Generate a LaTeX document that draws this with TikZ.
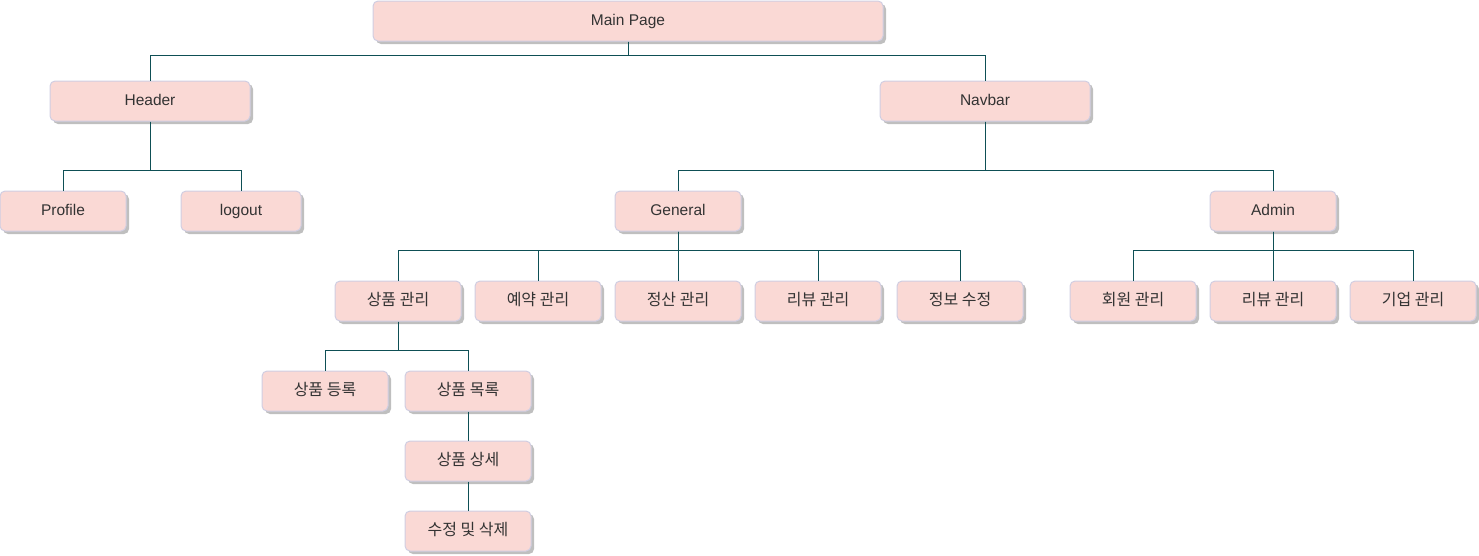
\documentclass[tikz,border=0pt]{standalone}
\usepackage{fontspec}
\setmainfont{Liberation Sans}
\newfontfamily\krfont{Noto Sans CJK KR}
\usetikzlibrary{shadows}
\definecolor{boxfill}{HTML}{FAD9D5}
\definecolor{boxline}{HTML}{D0CEE2}
\definecolor{linkcol}{HTML}{0E4F55}
\definecolor{txtcol}{HTML}{333333}
\tikzset{
  box/.style={draw=boxline,fill=boxfill,rounded corners=5pt,line width=1pt,
    minimum width=126pt,minimum height=40pt,inner sep=0pt,text=txtcol,
    text height=11pt,text depth=3pt,
    font=\fontsize{15.5}{18}\selectfont,
    general shadow={fill=black!25,shadow xshift=3pt,shadow yshift=-3pt}},
  kbox/.style={box,font=\fontsize{16}{18}\selectfont\krfont},
  link/.style={draw=linkcol,line width=1pt},
}

\begin{document}
\begin{tikzpicture}[x=1pt,y=-1pt]
\useasboundingbox (0,0) rectangle (1479,555);
\node[box,minimum width=510pt] (main) at (628,21) {Main Page};
\node[box,minimum width=200pt] (header) at (150,101) {Header};
\node[box,minimum width=210pt] (navbar) at (985,101) {Navbar};
\node[box] (profile) at (63,211) {Profile};
\node[box,minimum width=120pt] (logout) at (241,211) {logout};
\node[box] (general) at (678,211) {General};
\node[box] (admin) at (1273,211) {Admin};
\node[kbox] (prod) at (398,301) {상품 관리};
\node[kbox] (resv) at (538,301) {예약 관리};
\node[kbox] (settle) at (678,301) {정산 관리};
\node[kbox] (review) at (818,301) {리뷰 관리};
\node[kbox] (info) at (960,301) {정보 수정};
\node[kbox] (member) at (1133,301) {회원 관리};
\node[kbox] (areview) at (1273,301) {리뷰 관리};
\node[kbox] (corp) at (1413,301) {기업 관리};
\node[kbox] (prodreg) at (325,391) {상품 등록};
\node[kbox] (prodlist) at (468,391) {상품 목록};
\node[kbox] (proddetail) at (468,461) {상품 상세};
\node[kbox] (prodedit) at (468,531) {수정 및 삭제};

\draw[link] (main.south) -- ++(0,14) -| (header.north);
\draw[link] (main.south) -- ++(0,14) -| (navbar.north);
\draw[link] (header.south) -- ++(0,49) -| (profile.north);
\draw[link] (header.south) -- ++(0,49) -| (logout.north);
\draw[link] (navbar.south) -- ++(0,49) -| (general.north);
\draw[link] (navbar.south) -- ++(0,49) -| (admin.north);
\foreach \n in {prod,resv,settle,review,info}
  \draw[link] (general.south) -- ++(0,19) -| (\n.north);
\foreach \n in {member,areview,corp}
  \draw[link] (admin.south) -- ++(0,19) -| (\n.north);
\draw[link] (prod.south) -- ++(0,29) -| (prodreg.north);
\draw[link] (prod.south) -- ++(0,29) -| (prodlist.north);
\draw[link] (prodlist) -- (proddetail);
\draw[link] (proddetail) -- (prodedit);
\end{tikzpicture}
\end{document}
